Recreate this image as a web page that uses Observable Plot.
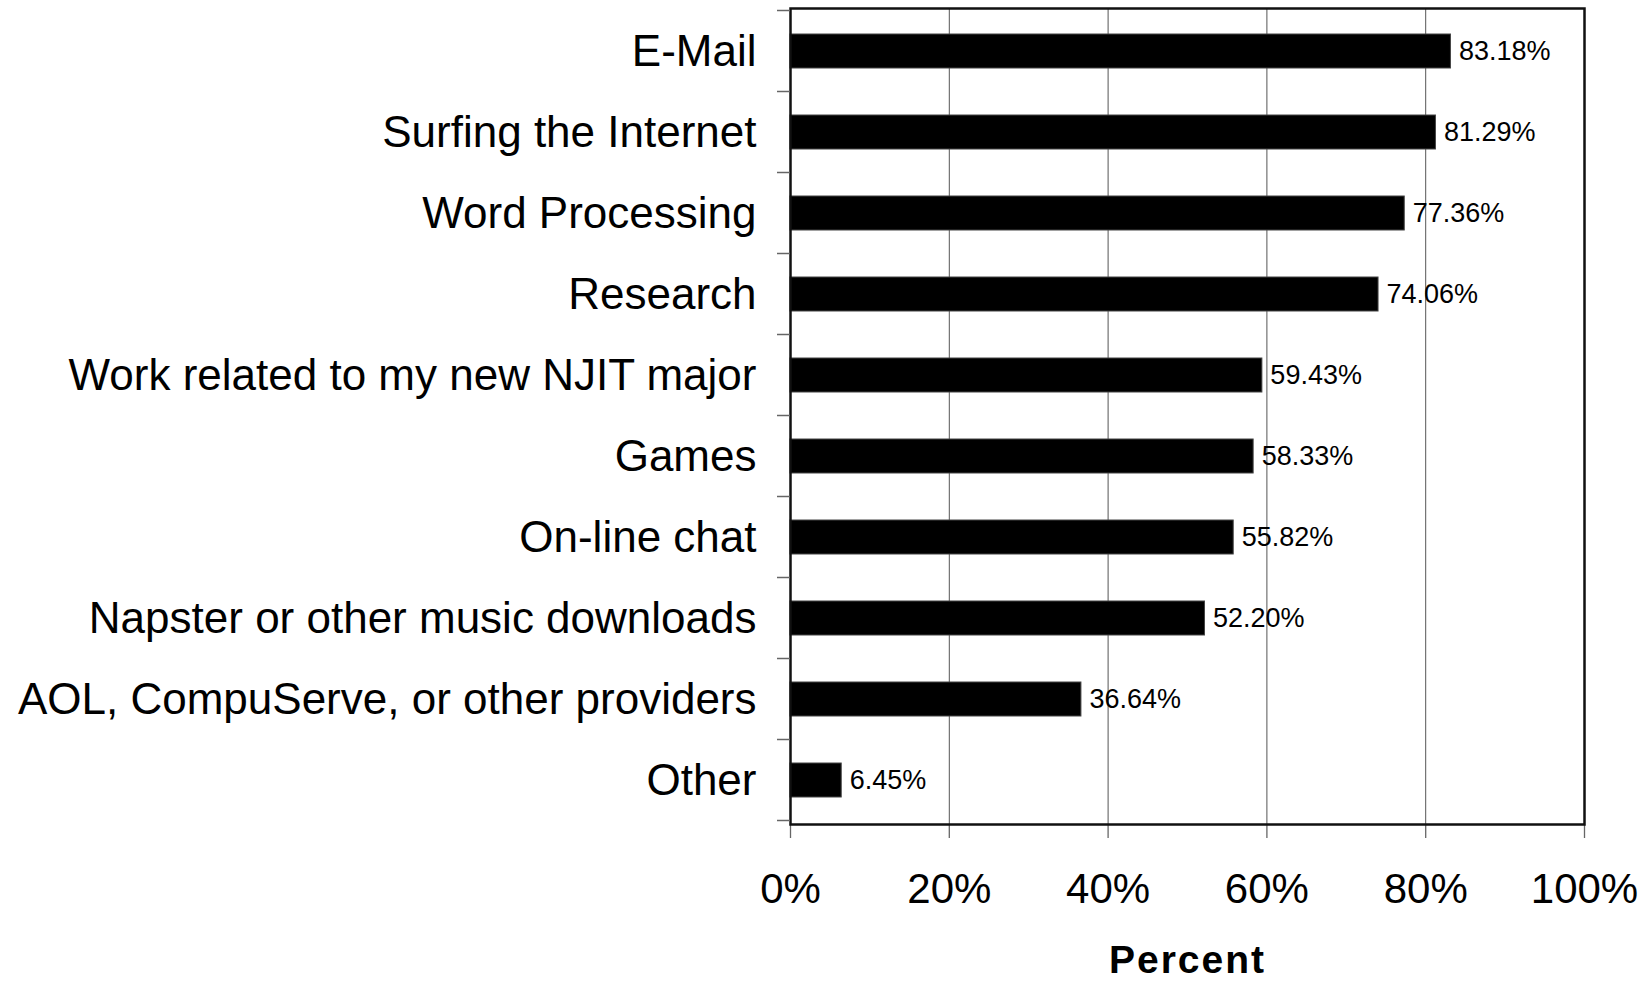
<!DOCTYPE html>
<html>
<head>
<meta charset="utf-8">
<script src="https://cdn.jsdelivr.net/npm/d3@7"></script>
<script src="https://cdn.jsdelivr.net/npm/@observablehq/plot@0.6"></script>
<style>
  html, body { margin: 0; padding: 0; background: #fff; }
</style>
</head>
<body>
<div id="chart"></div>
<script>
const categories = [
  "E-Mail",
  "Surfing the Internet",
  "Word Processing",
  "Research",
  "Work related to my new NJIT major",
  "Games",
  "On-line chat",
  "Napster or other music downloads",
  "AOL, CompuServe, or other providers",
  "Other"
];
const values = [83.18, 81.29, 77.36, 74.06, 59.43, 58.33, 55.82, 52.20, 36.64, 6.45];
const xTicks = [0, 20, 40, 60, 80, 100];
const xTickLabels = ["0%", "20%", "40%", "60%", "80%", "100%"];
const xLabel = "Percent";

const data = categories.map((c, i) => ({category: c, value: values[i]}));

const boundaryTicks = (index, scales, vals, dimensions) => {
  const y = scales.y;
  const step = y.step(), bw = y.bandwidth();
  const ml = dimensions.marginLeft;
  const half = (step - bw) / 2;
  const bounds = categories.map(c => y(c) - half);
  bounds.push(y(categories[categories.length - 1]) + bw + half);
  const g = d3.create("svg:g").attr("stroke", "#666").attr("stroke-width", 1.5);
  g.selectAll("line").data(bounds).join("line")
    .attr("x1", ml - 13).attr("x2", ml)
    .attr("y1", d => d).attr("y2", d => d);
  return g.node();
};

const chart = Plot.plot({
  width: 1649,
  height: 982,
  marginLeft: 790,
  marginRight: 65,
  marginTop: 8,
  marginBottom: 158,
  style: {fontFamily: "'Liberation Sans', Arial, Helvetica, sans-serif", color: "#000", background: "#fff", overflow: "visible"},
  x: {domain: [0, 100]},
  y: {domain: categories, paddingInner: 0.58, paddingOuter: 0.29},
  marks: [
    Plot.gridX(xTicks.slice(1, -1), {stroke: "#555", strokeOpacity: 1, strokeWidth: 1}),
    Plot.barX(data, {x: "value", y: "category", fill: "#000", stroke: "#444", strokeWidth: 1}),
    Plot.text(data, {x: "value", y: "category", text: d => d.value.toFixed(2) + "%", dx: 8, textAnchor: "start", fontSize: 27, fill: "#000"}),
    Plot.axisY({tickSize: 0, tickPadding: 34, fontSize: 44, label: null}),
    Plot.axisX({ticks: xTicks, tickSize: 14, tickPadding: 35, fontSize: 42, label: null, stroke: "#666", strokeWidth: 1.3,
      tickFormat: d => xTickLabels[xTicks.indexOf(d)]}),
    Plot.frame({stroke: "#111", strokeWidth: 2.5}),
    boundaryTicks,
    Plot.text([xLabel], {frameAnchor: "bottom", lineAnchor: "middle", dy: 136, fontSize: 39, fontWeight: "bold", fill: "#000"})
  ]
});
d3.select(chart).selectAll("text").filter(function() { return this.textContent === xLabel; })
  .attr("letter-spacing", "2px");
document.getElementById("chart").appendChild(chart);
</script>
</body>
</html>
